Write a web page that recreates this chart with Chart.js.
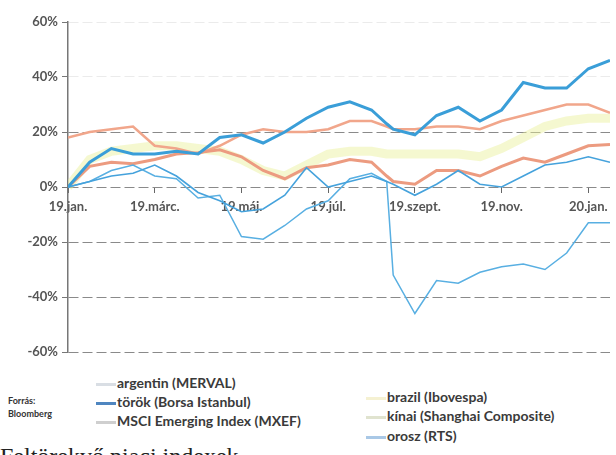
<!DOCTYPE html>
<html>
<head>
<meta charset="utf-8">
<script src="https://cdn.jsdelivr.net/npm/chart.js@4.4.1/dist/chart.umd.min.js"></script>
<style>
  html, body { margin: 0; padding: 0; background: #fff; width: 616px; height: 455px; overflow: hidden; }
  body { position: relative; font-family: Lato, "Noto Sans", sans-serif; }
  #chartBox { position: absolute; left: 0; top: 0; width: 616px; height: 365px; }
  .src { position: absolute; left: 8px; top: 394px; font-size: 9px; font-weight: 700; color: #333; line-height: 13px; }
  .item { position: absolute; font-size: 14px; font-weight: 700; color: #3a3a3a; white-space: nowrap; line-height: 18px; }
  .sw { display: inline-block; width: 20px; height: 3px; vertical-align: middle; margin-right: 1px; }
  .cut { position: absolute; left: 0; top: 443px; font-family: "Liberation Serif", serif; font-size: 24px; color: #222; white-space: nowrap; }
</style>
</head>
<body>
<div id="chartBox"><canvas id="c"></canvas></div>
<div class="src">Forrás:<br>Bloomberg</div>
<div id="legend"></div>
<div class="cut">Feltörekvő piaci indexek</div>
<script>
// months since 2019 Jan 1 (half-month steps, plus the day of the Argentine crash)
const months = [0, 0.5, 1, 1.5, 2, 2.5, 3, 3.5, 4, 4.5, 5, 5.5, 6, 6.5, 7, 7.35, 7.5, 8, 8.5, 9, 9.5, 10, 10.5, 11, 11.5, 12, 12.5];
const tickMonths = [0, 2, 4, 6, 8, 10, 12];
const tickLabels = ["19.jan.", "19.márc.", "19.máj.", "19.júl.", "19.szept.", "19.nov.", "20.jan."];

// cumulative change, %
const argentin = [0, 2, 6, 8, 4, 3, -4, -3, -18, -19, -14, -8, -5, 3, 5, 2, -32, -46, -34, -35, -31, -29, -28, -30, -24, -13, -13];
const torok    = [0, 2, 4, 5, 8, 4, -2, -5, -9, -8, -3, 7, 0, 2, 4, 2, 1, -3, 1, 6, 1, 0, 4, 8, 9, 11, 9];
const msci     = [0, 7.5, 9, 8.5, 10, 12, 12.5, 13.5, 11, 6, 3, 7, 8, 10, 9, 4, 2, 1, 6, 6, 4, 7.5, 10.5, 9, 12, 15, 15.5];
const brazil   = [18, 20, 21, 22, 15, 14, 12, 15, 19, 21, 20, 20, 21, 24, 24, 22, 21, 21, 22, 22, 21, 24, 26, 28, 30, 30, 27];
const kinai    = [0, 10, 13, 14, 15, 15, 14, 13, 10, 6, 4, 8, 12, 13, 13, 12, 12, 12, 12, 12, 11, 14, 18, 22, 24, 25, 25];
const orosz    = [0, 9, 14, 12, 12, 13, 12, 18, 19, 16, 20, 25, 29, 31, 28, 23, 21, 19, 26, 29, 24, 28, 38, 36, 36, 43, 46];

const yTicks = [-60, -40, -20, 0, 20, 40, 60];

const pts = (arr) => arr.map((v, i) => ({ x: months[i], y: v }));

const series = [
  { label: "argentin (MERVAL)", data: argentin, color: "#58afe2", width: 1.5, order: 3, sw: "#d9dee4" },
  { label: "török (Borsa Istanbul)", data: torok, color: "#45a2dc", width: 1.6, order: 2, sw: "#4f86c0" },
  { label: "MSCI Emerging Index (MXEF)", data: msci, color: "#ec9b80", width: 3, order: 5, sw: "#cfcfcf" },
  { label: "brazil (Ibovespa)", data: brazil, color: "#f1a68b", width: 2.5, order: 6, sw: "#f5f1d2" },
  { label: "kínai (Shanghai Composite)", data: kinai, color: "rgba(232,240,150,0.45)", width: 9, order: 10, sw: "#e0e3cf" },
  { label: "orosz (RTS)", data: orosz, color: "#3a9ed8", width: 3, order: 1, sw: "#a9c8e6" }
];

// legend in two columns as in the print
const legendPos = [
  { left: 96, top: 374 }, { left: 96, top: 393 }, { left: 96, top: 412 },
  { left: 366, top: 388 }, { left: 366, top: 407 }, { left: 366, top: 427 }
];
const legendEl = document.getElementById("legend");
series.forEach((s, i) => {
  const d = document.createElement("div");
  d.className = "item";
  d.style.left = legendPos[i].left + "px";
  d.style.top = legendPos[i].top + "px";
  d.innerHTML = '<span class="sw" style="background:' + s.sw + '"></span>' + s.label;
  legendEl.appendChild(d);
});

new Chart(document.getElementById("c"), {
  type: "line",
  data: {
    datasets: series.map((s) => ({
      label: s.label,
      data: pts(s.data),
      borderColor: s.color,
      backgroundColor: s.color,
      borderWidth: s.width,
      pointRadius: 0,
      tension: 0,
      fill: false,
      order: s.order,
    })),
  },
  options: {
    responsive: true,
    maintainAspectRatio: false,
    animation: false,
    layout: { padding: { top: 22, right: 6, bottom: 13, left: 0 } },
    plugins: { legend: { display: false }, tooltip: { enabled: false } },
    scales: {
      x: {
        type: "linear",
        min: 0,
        max: 12.5,
        position: { y: 0 },
        afterBuildTicks: (scale) => { scale.ticks = tickMonths.map((v) => ({ value: v })); },
        afterFit: (scale) => { scale.height = 0; },
        ticks: {
          autoSkip: false,
          maxRotation: 0,
          padding: 6,
          color: "#555",
          font: { family: "Lato", size: 13, weight: "bold" },
          callback: (v) => tickLabels[tickMonths.indexOf(v)],
        },
        grid: { drawOnChartArea: false, drawTicks: true, tickLength: 6, color: "#666" },
        border: { display: false },
      },
      y: {
        min: -60,
        max: 60,
        afterBuildTicks: (scale) => { scale.ticks = yTicks.map((v) => ({ value: v })); },
        afterFit: (scale) => { scale.width = 68; },
        ticks: {
          padding: 4,
          color: "#555",
          font: { family: "Lato", size: 13, weight: "bold" },
          callback: (v) => v + "%",
        },
        grid: {
          color: (c) => (c.tick && c.tick.value >= 40 ? "rgba(120,120,120,0.15)" : "#8a8a8a"),
          tickColor: "#777",
          tickLength: 6,
          lineWidth: 1,
        },
        border: { display: true, color: "#777", width: 1.5, dash: [10, 4] },
      },
    },
  },
});
</script>
</body>
</html>
